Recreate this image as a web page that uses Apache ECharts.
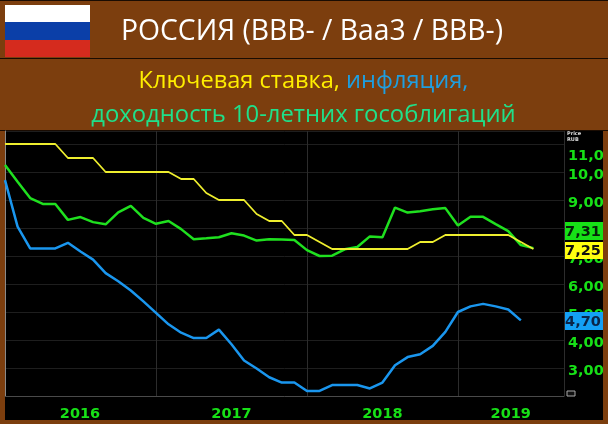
<!DOCTYPE html>
<html><head><meta charset="utf-8">
<style>html,body{margin:0;padding:0;background:#7c3e0e}#c{width:608px;height:424px}</style>
<script src="https://cdn.jsdelivr.net/npm/echarts@6/dist/echarts.min.js"></script>
</head><body><div id="c"></div>
<script>
const titleText = 'РОССИЯ (BBB- / Baa3 / BBB-)';
const subtitleKey = 'Ключевая ставка, ';
const subtitleInfl = 'инфляция,';
const subtitleYield = 'доходность 10-летних гособлигаций';
// month index 0 = start of 2016
const keyRate = [11,11,11,11,11,10.5,10.5,10.5,10,10,10,10,10,10,9.75,9.75,9.25,9,9,9,8.5,8.25,8.25,7.75,7.75,7.5,7.25,7.25,7.25,7.25,7.25,7.25,7.25,7.5,7.5,7.75,7.75,7.75,7.75,7.75,7.75,7.5,7.25];
const yield10 = [10.25,9.65,9.07,8.86,8.86,8.29,8.39,8.21,8.13,8.56,8.79,8.36,8.15,8.25,7.96,7.6,7.63,7.67,7.81,7.73,7.55,7.6,7.59,7.57,7.21,7,7.01,7.24,7.32,7.7,7.67,8.73,8.55,8.6,8.67,8.71,8.09,8.4,8.4,8.14,7.89,7.39,7.28];
const inflation = [9.71,8.05,7.27,7.27,7.27,7.47,7.16,6.87,6.39,6.1,5.77,5.38,4.97,4.56,4.26,4.07,4.07,4.37,3.85,3.27,2.98,2.67,2.48,2.48,2.18,2.18,2.39,2.39,2.39,2.27,2.48,3.1,3.39,3.49,3.79,4.29,5,5.2,5.29,5.2,5.09,4.7];
const yearLabels = ['2016','2017','2018','2019'];
const yearLabelPos = [5.96,18,30,40.2];
const lastLabels = ['7,31','7,25','4,70'];

const GREEN='#17e017', BROWN='#7c3e0e';
const toPts = a => a.map((v,i)=>[i,v]);
const box=(x,y,w,h,fill,txt,col)=>({type:'rect',zlevel:2,z:60,shape:{x,y,width:w,height:h},style:{fill},
  textContent:{zlevel:2,z:61,style:{text:txt,fill:col,font:'bold 14.5px "DejaVu Sans"'}},textConfig:{position:'inside',offset:[-1,1]}});
const lbl={color:GREEN,fontFamily:'DejaVu Sans',fontWeight:'bold',fontSize:14.5};
const chart=echarts.init(document.getElementById('c'),null,{renderer:'canvas'});
chart.setOption({
  animation:false,
  backgroundColor:BROWN,
  grid:{left:5,right:44,top:131,bottom:28,outerBoundsMode:'none'},
  xAxis:[
   {type:'value',min:0,max:44.43,interval:12,axisLine:{show:true,onZero:false,lineStyle:{color:'#4a4a4a',width:1}},axisTick:{show:false},axisLabel:{show:false},
    splitLine:{show:true,lineStyle:{color:'#2c2c2c',width:1}}},
   {type:'value',position:'bottom',min:0,max:44.43,axisLine:{show:false},axisTick:{show:false},splitLine:{show:false},
    axisLabel:{show:true,customValues:yearLabelPos,margin:11,
      formatter:v=>yearLabels[yearLabelPos.indexOf(v)]||'',color:GREEN,fontFamily:'DejaVu Sans',fontWeight:'bold',fontSize:14.5}}
  ],
  yAxis:{type:'value',position:'right',min:2,max:11.464,interval:1,
    axisLine:{show:true,lineStyle:{color:'#8a8a8a',width:1}},axisTick:{show:false},
    splitLine:{show:true,lineStyle:{color:'#1e1e1e',width:1}},
    axisLabel:{margin:4,align:'left',showMaxLabel:false,showMinLabel:false,
      formatter:v=>{const t=v.toFixed(2).replace('.',',');return v===11?'{s|'+t+'}':'{n|'+t+'}';},
      rich:{n:{...lbl,padding:[6,0,0,0]},s:{...lbl,padding:[24,0,0,0]}}}},
  series:[
   {type:'line',name:'Инфляция',data:toPts(inflation),symbol:'none',lineStyle:{color:'#1a96ee',width:2.5},z:3},
   {type:'line',name:'Доходность 10-летних',data:toPts(yield10),symbol:'none',lineStyle:{color:'#1fe01f',width:2.5},z:4},
   {type:'line',name:'Ключевая ставка',data:toPts(keyRate),symbol:'none',lineStyle:{color:'#eeee2e',width:1.8},z:5}
  ],
  graphic:{elements:[
   {type:'rect',z:-1,shape:{x:5,y:131,width:598,height:289},style:{fill:'#000'}},
   {type:'rect',z:-1,shape:{x:0,y:0,width:608,height:1},style:{fill:'#1a0c02'}},
   {type:'rect',z:-1,shape:{x:0,y:58,width:608,height:1},style:{fill:'#1a0c02'}},
   {type:'rect',z:-1,shape:{x:0,y:130,width:608,height:1},style:{fill:'#1a0c02'}},
   {type:'rect',zlevel:1,z:50,shape:{x:603,y:131,width:5,height:293},style:{fill:BROWN}},
   {type:'rect',zlevel:1,z:50,shape:{x:0,y:420,width:608,height:4},style:{fill:BROWN}},
   {type:'rect',z:1,shape:{x:5,y:5,width:85,height:17},style:{fill:'#ffffff'}},
   {type:'rect',z:1,shape:{x:5,y:22,width:85,height:18},style:{fill:'#0b3fa8'}},
   {type:'rect',z:1,shape:{x:5,y:40,width:85,height:17},style:{fill:'#d52b1e'}},
   {type:'text',z:1,x:312,y:32,style:{text:titleText,fill:'#fff',font:'28.3px "Open Sans"',textAlign:'center',textVerticalAlign:'middle'}},
   {type:'text',z:1,x:303.5,y:81,style:{
     text:'{a|'+subtitleKey+'}{b|'+subtitleInfl+'}',textAlign:'center',textVerticalAlign:'middle',
     rich:{a:{fill:'#ffee00',font:'23.6px "Open Sans"'},b:{fill:'#1f9fe0',font:'23.6px "Open Sans"'}}}},
   {type:'text',z:1,x:303.5,y:115,style:{text:subtitleYield,fill:'#1fe08a',font:'23.8px "Open Sans"',textAlign:'center',textVerticalAlign:'middle'}},
   {type:'text',z:1,x:567,y:134,style:{text:'Price',fill:'#ddd',font:'bold 5px "DejaVu Sans"',textVerticalAlign:'middle'}},
   {type:'text',z:1,x:567,y:140,style:{text:'RUB',fill:'#ddd',font:'bold 5px "DejaVu Sans"',textVerticalAlign:'middle'}},
   {type:'rect',z:1,shape:{x:567,y:391,width:8,height:5},style:{fill:'#111',stroke:'#aaa',lineWidth:1}},
   box(565,222,38,18,'#17e017',lastLabels[0],'#06200a'),
   box(565,242,38,17,'#ffff10',lastLabels[1],'#111'),
   box(565,312,38,18,'#14a0f5',lastLabels[2],'#0a2448')
  ]}
});
</script></body></html>
